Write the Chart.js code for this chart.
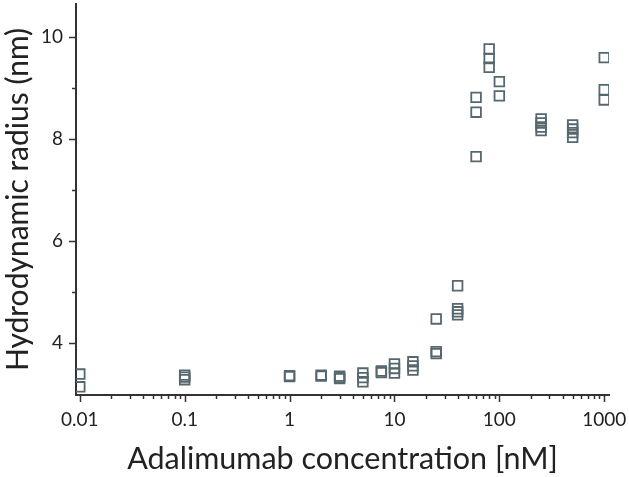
<!DOCTYPE html>
<html>
<head>
<meta charset="utf-8">
<script src="https://cdn.jsdelivr.net/npm/chart.js@4.4.1/dist/chart.umd.min.js"></script>
<style>
  html, body { margin: 0; padding: 0; background: #fff; }
  #wrap { width: 629px; height: 477px; }
</style>
</head>
<body>
<div id="wrap"><canvas id="dlsChart" width="629" height="477"></canvas></div>
<script>
// concentrations (nM) and the replicate radii read at each one
const concentrations = [0.01, 0.1, 1, 2, 3, 5, 7.5, 10, 15, 25, 40, 60, 80, 100, 250, 500, 1000];
const radiusReplicates = [
    [3.39, 3.14],
    [3.37, 3.33, 3.28],
    [3.36, 3.34],
    [3.37, 3.35],
    [3.35, 3.32, 3.30],
    [3.41, 3.32, 3.24],
    [3.45, 3.42],
    [3.59, 3.50, 3.41],
    [3.63, 3.55, 3.47],
    [4.47, 3.83, 3.79],
    [5.12, 4.67, 4.61, 4.55],
    [8.81, 8.52, 7.65],
    [9.76, 9.57, 9.40],
    [9.12, 8.84],
    [8.39, 8.31, 8.23, 8.16],
    [8.27, 8.19, 8.12, 8.03],
    [9.59, 8.96, 8.76]
];
const xTickValues = [0.01, 0.1, 1, 10, 100, 1000];
const yTickValues = [4, 5, 6, 7, 8, 9, 10];

const axisColor = '#333333';
const markerColor = '#56676f';
const fontFamily = 'Lato, "Open Sans", sans-serif';

// flatten into scatter points
const points = [];
concentrations.forEach((c, i) => {
    radiusReplicates[i].forEach(r => points.push({ x: c, y: r }));
});

// tick marks (major + minor) drawn from the scales
const tickMarks = {
    id: 'tickMarks',
    afterDraw(chart) {
        const ctx = chart.ctx;
        const xs = chart.scales.x;
        const ys = chart.scales.y;
        const area = chart.chartArea;
        ctx.save();
        ctx.strokeStyle = axisColor;
        ctx.lineWidth = 1.5;
        ctx.beginPath();
        for (let d = 0.001; d <= 1000; d *= 10) {
            for (let k = 1; k <= 9; k++) {
                const v = k * d;
                if (v < xs.min || v > xs.max) continue;
                const px = Math.round(xs.getPixelForValue(v)) + 0.5;
                const len = k === 1 ? 7 : 4;
                ctx.moveTo(px, area.bottom);
                ctx.lineTo(px, area.bottom + len);
            }
        }
        yTickValues.forEach(v => {
            if (v < ys.min || v > ys.max) return;
            const py = Math.round(ys.getPixelForValue(v)) + 0.5;
            const len = v % 2 === 0 ? 7 : 4;
            ctx.moveTo(area.left, py);
            ctx.lineTo(area.left - len, py);
        });
        ctx.stroke();
        ctx.restore();
    }
};

new Chart(document.getElementById('dlsChart'), {
    type: 'scatter',
    data: {
        datasets: [{
            label: 'Hydrodynamic radius',
            data: points,
            pointStyle: 'rect',
            pointRadius: 6.8,
            pointHoverRadius: 6.8,
            borderWidth: 1.8,
            borderColor: markerColor,
            backgroundColor: 'rgba(0,0,0,0)'
        }]
    },
    plugins: [tickMarks],
    options: {
        responsive: false,
        animation: false,
        events: [],
        layout: { autoPadding: false, padding: { left: 0, right: 20, top: 4, bottom: 0 } },
        plugins: {
            legend: { display: false },
            tooltip: { enabled: false }
        },
        scales: {
            x: {
                type: 'logarithmic',
                min: 0.0092,
                max: 1110,
                afterBuildTicks: (scale) => {
                    scale.ticks = xTickValues.map(v => ({ value: v }));
                },
                afterFit: (scale) => {
                    scale.height = 82;
                    scale.paddingLeft = 0;
                    scale.paddingRight = 0;
                },
                ticks: {
                    autoSkip: false,
                    maxRotation: 0,
                    padding: 13,
                    color: '#222',
                    font: { family: fontFamily, size: 19 },
                    callback: (v) => String(v)
                },
                grid: { display: true, drawOnChartArea: false, drawTicks: false },
                border: { color: axisColor, width: 2 },
                title: {
                    display: true,
                    text: 'Adalimumab concentration [nM]',
                    color: '#222',
                    font: { family: fontFamily, size: 30.5 },
                    padding: { top: 0, bottom: 0 }
                }
            },
            y: {
                min: 2.98,
                max: 10.64,
                afterBuildTicks: (scale) => {
                    scale.ticks = yTickValues.map(v => ({ value: v }));
                },
                afterFit: (scale) => {
                    scale.width = 76;
                    scale.paddingTop = 0;
                    scale.paddingBottom = 0;
                },
                ticks: {
                    autoSkip: false,
                    padding: 13,
                    color: '#222',
                    font: { family: fontFamily, size: 19 },
                    callback: (v) => (v % 2 === 0 ? String(v) : '')
                },
                grid: { display: true, drawOnChartArea: false, drawTicks: false },
                border: { color: axisColor, width: 2 },
                title: {
                    display: true,
                    text: 'Hydrodynamic radius (nm)',
                    color: '#222',
                    font: { family: fontFamily, size: 30 },
                    padding: { top: 0, bottom: 0 }
                }
            }
        }
    }
});
</script>
</body>
</html>
